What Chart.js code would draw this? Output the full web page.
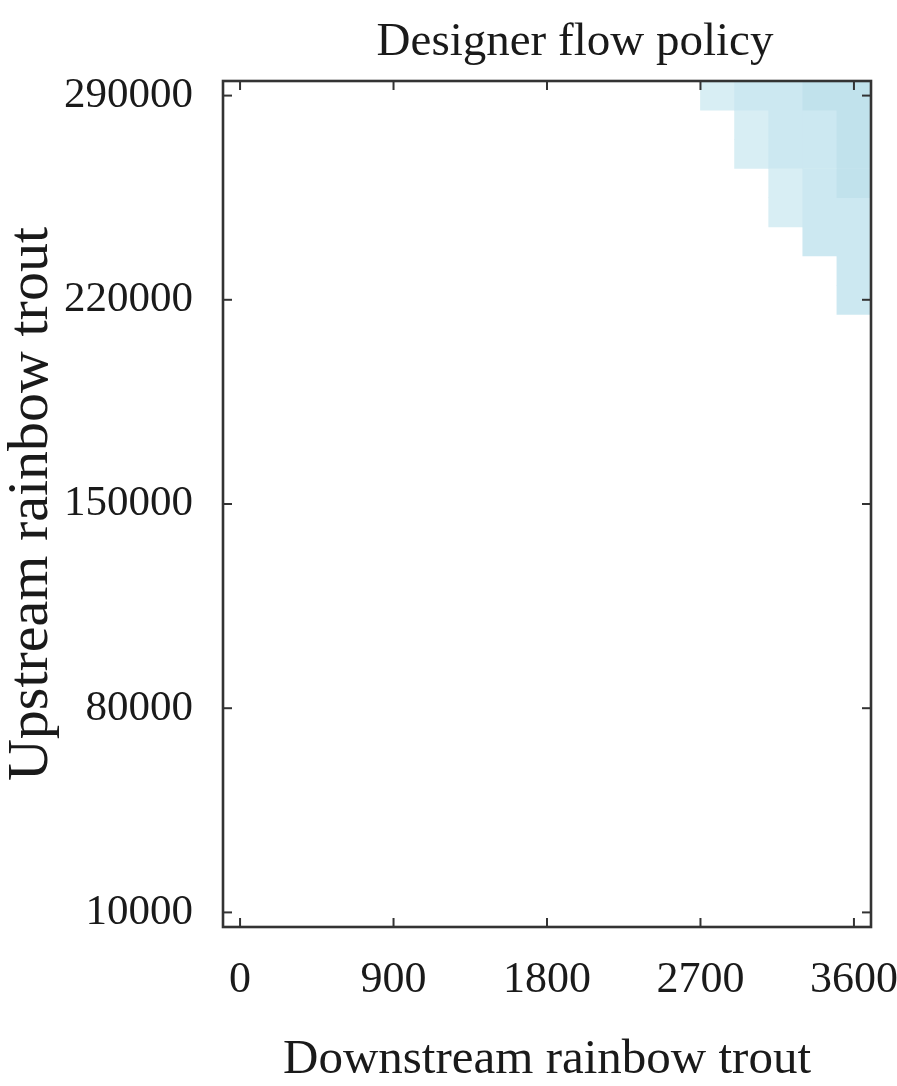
<!DOCTYPE html>
<html>
<head>
<meta charset="utf-8">
<title>Designer flow policy</title>
<script src="https://cdn.jsdelivr.net/npm/chart.js@4.4.1/dist/chart.umd.min.js"></script>
<style>
  html, body { margin: 0; padding: 0; background: #fff; }
  #wrap { width: 897px; height: 1086px; position: relative; }
</style>
</head>
<body>
<div id="wrap"><canvas id="policyChart"></canvas></div>
<script>
/* chart data */
const downstream = [2800, 3000, 3200, 3400, 3600];
const upstream = [290000, 280000, 270000, 260000, 250000, 240000, 230000, 220000];
// policy level per upstream row, one entry per downstream column (0 = no release)
const row290000 = [1, 2, 2, 3, 3];
const row280000 = [0, 1, 2, 2, 3];
const row270000 = [0, 1, 2, 2, 3];
const row260000 = [0, 0, 1, 2, 3];
const row250000 = [0, 0, 1, 2, 2];
const row240000 = [0, 0, 0, 2, 2];
const row230000 = [0, 0, 0, 0, 2];
const row220000 = [0, 0, 0, 0, 2];
const policyLevels = [row290000, row280000, row270000, row260000, row250000, row240000, row230000, row220000];

const xTickValues = [0, 900, 1800, 2700, 3600];
const yTickValues = [10000, 80000, 150000, 220000, 290000];

const Y_STEP = 10000;
const levelColors = ["rgba(0,0,0,0)", "#d8eef4", "#cce8f1", "#c1e2ec"];
const SERIF = "'Liberation Serif', 'DejaVu Serif', serif";
const INK = "#1a1a1a";

/* one floating-bar dataset per upstream row */
const datasets = upstream.map((u, r) => {
  const cells = [];
  policyLevels[r].forEach((lvl, c) => {
    if (lvl > 0) {
      cells.push({ x: downstream[c], y: [u - Y_STEP / 2, u + Y_STEP / 2], lvl: lvl });
    }
  });
  return {
    label: String(u),
    data: cells,
    backgroundColor: cells.map((cell) => levelColors[cell.lvl]),
    borderWidth: 0,
    barPercentage: 1,
    categoryPercentage: 1,
    grouped: false,
  };
});

/* frame, inward tick marks and title */
const framePlugin = {
  id: "frame",
  afterDatasetsDraw(chart) {
    const { ctx, chartArea: a, scales } = chart;
    const line = (x1, y1, x2, y2) => {
      ctx.beginPath();
      ctx.moveTo(x1, y1);
      ctx.lineTo(x2, y2);
      ctx.stroke();
    };
    ctx.save();
    ctx.strokeStyle = "#333";
    ctx.lineWidth = 2;
    scales.x.ticks.forEach((t, i) => {
      const px = scales.x.getPixelForTick(i);
      line(px, a.bottom, px, a.bottom - 9);
      line(px, a.top, px, a.top + 9);
    });
    scales.y.ticks.forEach((t, i) => {
      const py = scales.y.getPixelForTick(i);
      line(a.left, py, a.left + 9, py);
      line(a.right, py, a.right - 9, py);
    });
    ctx.lineWidth = 2.6;
    ctx.strokeRect(a.left, a.top, a.right - a.left, a.bottom - a.top);

    ctx.fillStyle = INK;
    ctx.font = "47px " + SERIF;
    ctx.textAlign = "center";
    ctx.textBaseline = "alphabetic";
    ctx.fillText("Designer flow policy", (a.left + a.right) / 2 + 28, 55);
    ctx.restore();
  },
};

new Chart(document.getElementById("policyChart"), {
  type: "bar",
  data: { datasets: datasets },
  options: {
    responsive: true,
    maintainAspectRatio: false,
    animation: false,
    layout: { padding: { top: 81, right: 26, left: 0, bottom: 0 } },
    plugins: {
      legend: { display: false },
      tooltip: { enabled: false },
      title: { display: false },
    },
    scales: {
      x: {
        type: "linear",
        offset: false,
        min: -100,
        max: 3700,
        grid: { display: false, drawTicks: false, offset: false },
        border: { display: false },
        afterBuildTicks: (axis) => {
          axis.ticks = xTickValues.map((v) => ({ value: v }));
        },
        afterFit: (axis) => {
          axis.height = 159;
          axis.paddingLeft = 0;
          axis.paddingRight = 0;
        },
        ticks: {
          padding: 27,
          color: INK,
          font: { family: SERIF, size: 44 },
          maxRotation: 0,
          autoSkip: false,
          callback: (v) => String(v),
        },
        title: {
          display: true,
          text: "Downstream rainbow trout",
          color: INK,
          font: { family: SERIF, size: 49, lineHeight: 1 },
          padding: { top: 0, bottom: 1 },
        },
      },
      y: {
        type: "linear",
        min: 5000,
        max: 295000,
        grid: { display: false, drawTicks: false },
        border: { display: false },
        afterBuildTicks: (axis) => {
          axis.ticks = yTickValues.map((v) => ({ value: v }));
        },
        afterFit: (axis) => {
          axis.width = 223;
          axis.paddingTop = 0;
          axis.paddingBottom = 0;
        },
        ticks: {
          padding: 30,
          color: INK,
          font: { family: SERIF, size: 43 },
          autoSkip: false,
          callback: (v) => String(v),
        },
        title: {
          display: true,
          text: "Upstream rainbow trout",
          color: INK,
          font: { family: SERIF, size: 58, lineHeight: 1 },
          padding: { top: 3, bottom: 0 },
        },
      },
    },
  },
  plugins: [framePlugin],
});
</script>
</body>
</html>
